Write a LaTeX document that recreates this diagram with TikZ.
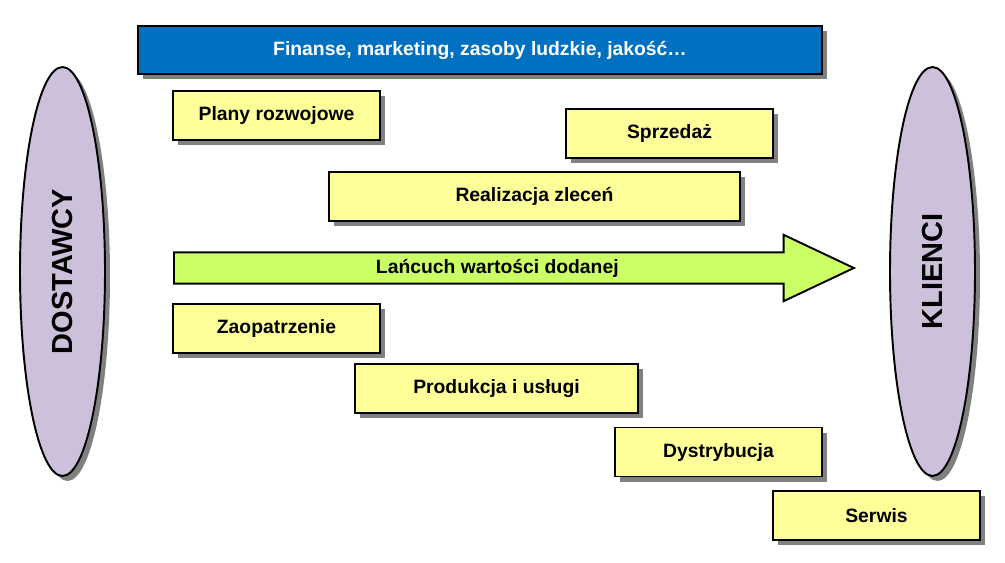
\documentclass[tikz,border=0pt]{standalone}
\usepackage{fontspec}
\setmainfont{Liberation Sans}
\usetikzlibrary{positioning,shapes.geometric,shapes.arrows,shadows}

\definecolor{barblue}{RGB}{0,112,192}
\definecolor{boxyellow}{RGB}{255,255,153}
\definecolor{arrowgreen}{RGB}{204,255,102}
\definecolor{sidelilac}{RGB}{204,192,218}

\begin{document}
\begin{tikzpicture}[x=0.02cm,y=-0.02cm,
    shade/.style={drop shadow={shadow xshift=0.1cm,shadow yshift=-0.1cm,fill=black!50,opacity=1}},
    task/.style={draw=black,line width=1.1pt,fill=boxyellow,shade,
      minimum width=4.14cm,minimum height=0.98cm,inner sep=0pt,font=\bfseries\fontsize{11}{13}\selectfont},
    side/.style={ellipse,draw=black,line width=1.1pt,fill=sidelilac,shade,rotate=90,
      minimum width=8.18cm,minimum height=1.7cm,inner sep=0pt,font=\bfseries\fontsize{16.5}{18}\selectfont}]
    \useasboundingbox (0,0) rectangle (1005,562);
    % ---- support functions ----
    \node[task,fill=barblue,text=white,minimum width=13.68cm,minimum height=0.96cm] (support) at (480,50)
      {Finanse, marketing, zasoby ludzkie, jakość…};
    % ---- suppliers and clients ----
    \node[side] (suppliers) at (62.5,271.5) {DOSTAWCY};
    \node[side] (clients) at (932.5,271.5) {KLIENCI};
    % ---- value chain ----
    \node[single arrow,draw=black,line width=1.1pt,fill=arrowgreen,anchor=tail,
      minimum height=13.6cm,single arrow head extend=0.35cm,
      single arrow tip angle=50.6,inner xsep=0pt,inner ysep=3.2pt,font=\bfseries\fontsize{11}{13}\selectfont]
      (chain) at (173,268) {Lańcuch wartości dodanej};
    % ---- activities ----
    \node[task] (plans) at (276.5,115.5) {Plany rozwojowe};
    \node[task] (sales) at (669.5,133.5) {Sprzedaż};
    \node[task,minimum width=8.22cm] (orders) at (534.5,196.5) {Realizacja zleceń};
    \node[task] (supply) at (276.5,328.5) {Zaopatrzenie};
    \node[task,minimum width=5.66cm] (production) at (496.5,388.5) {Produkcja i usługi};
    \node[task] (distribution) at (718.5,452) {Dystrybucja};
    \node[task] (service) at (876.5,515.5) {Serwis};
\end{tikzpicture}
\end{document}
